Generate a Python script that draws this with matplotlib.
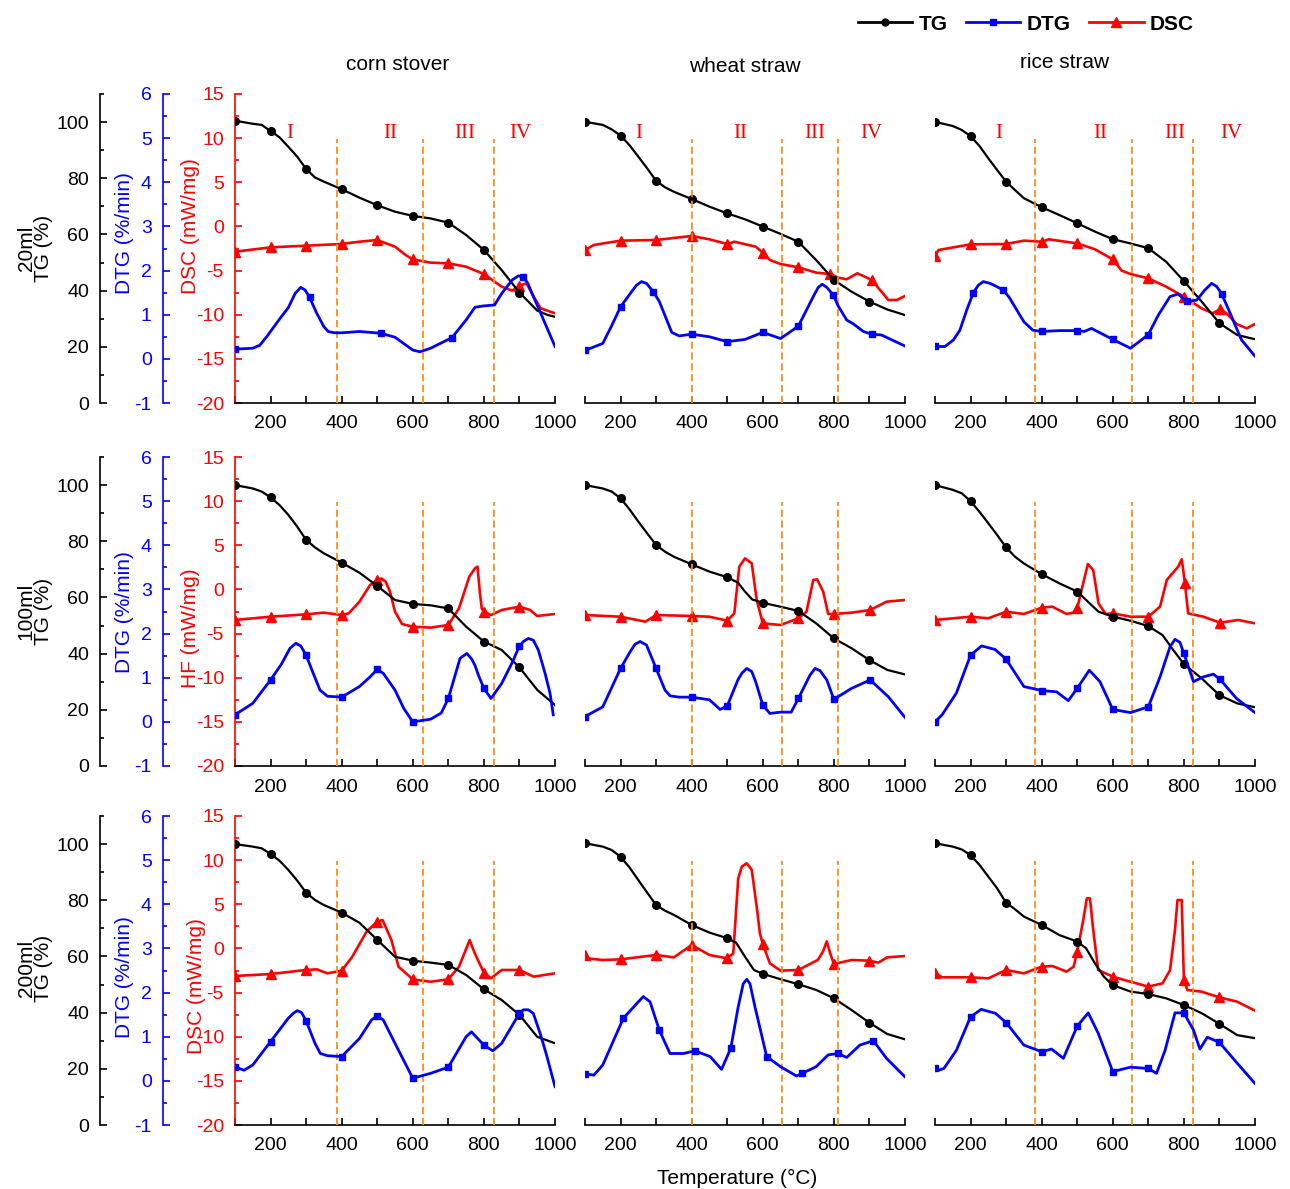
import numpy as np
import matplotlib
matplotlib.use("Agg")
import matplotlib.pyplot as plt
from matplotlib.lines import Line2D
from matplotlib.ticker import MultipleLocator

plt.rcParams['font.family'] = ['Liberation Sans', 'DejaVu Sans']
plt.rcParams['axes.unicode_minus'] = False

W, H = 1290, 1189

samples = ['corn stover', 'wheat straw', 'rice straw']
flows = ['20ml', '100ml', '200ml']
heat_labels = ['DSC (mW/mg)', 'HF (mW/mg)', 'DSC (mW/mg)']
stages = ['I', 'II', 'III', 'IV']
stage_pos = [[255, 538, 747, 903], [252, 536, 747, 906], [280, 564, 775, 932]]
bounds = [[387, 628, 829], [400, 653, 812], [380, 654, 826]]
mark_t = [100, 200, 300, 400, 500, 600, 700, 800, 900]

# ---- 20 ml ----
tg_corn_20 = [(100, 100.5), (150, 99.4), (175, 99.0), (200, 96.8), (225, 94.6), (250, 91.2), (275, 87.7),
              (300, 83.3), (325, 80.3), (350, 78.8), (400, 76.1), (450, 73.1), (500, 70.4), (550, 68.1),
              (600, 66.6), (650, 65.7), (700, 64.2), (750, 59.8), (800, 54.5), (850, 47.3), (900, 39.3),
              (950, 32.9), (980, 31.3), (1000, 30.7)]
dtg_corn_20 = [(100, 0.22), (150, 0.24), (170, 0.31), (189, 0.5), (227, 0.92), (250, 1.16), (269, 1.48),
               (285, 1.62), (297, 1.56), (310, 1.39), (330, 1.03), (350, 0.73), (362, 0.62), (380, 0.59),
               (400, 0.59), (450, 0.62), (510, 0.58), (550, 0.49), (600, 0.2), (620, 0.16), (650, 0.24),
               (710, 0.48), (750, 0.88), (775, 1.17), (800, 1.2), (830, 1.22), (850, 1.48), (880, 1.79),
               (897, 1.88), (910, 1.86), (923, 1.72), (940, 1.4), (960, 1.03), (1000, 0.28)]
dtg_corn_20_marks = [100, 310, 510, 710, 910]
dsc_corn_20 = [(100, -2.86), (200, -2.37), (300, -2.18), (400, -1.99), (450, -1.73), (500, -1.54),
               (550, -2.29), (580, -3.24), (600, -3.73), (650, -4.1), (700, -4.18), (750, -4.56),
               (800, -5.39), (850, -6.82), (880, -7.28), (900, -6.7), (920, -6.45), (940, -7.96),
               (960, -9.28), (1000, -9.84)]

tg_wheat_20 = [(100, 100.1), (150, 99.0), (175, 97.4), (200, 95.2), (225, 91.8), (250, 87.7), (275, 83.5),
               (300, 79.1), (325, 76.8), (350, 75.2), (400, 72.6), (450, 69.9), (500, 67.5), (550, 65.4),
               (600, 62.8), (650, 60.2), (700, 57.4), (750, 50.9), (800, 43.8), (850, 39.6), (900, 36.1),
               (950, 33.3), (1000, 31.3)]
dtg_wheat_20 = [(100, 0.19), (150, 0.35), (175, 0.75), (200, 1.18), (231, 1.52), (245, 1.67), (259, 1.75),
                (273, 1.71), (292, 1.52), (309, 1.3), (330, 0.88), (344, 0.6), (365, 0.52), (400, 0.56),
                (450, 0.5), (500, 0.39), (550, 0.44), (600, 0.6), (650, 0.46), (700, 0.74), (742, 1.41),
                (756, 1.62), (767, 1.69), (780, 1.62), (798, 1.45), (812, 1.2), (836, 0.88), (855, 0.79),
                (883, 0.62), (906, 0.56), (934, 0.54), (1000, 0.29)]
dsc_wheat_20 = [(100, -2.67), (125, -2.1), (200, -1.61), (300, -1.54), (400, -1.08), (450, -1.46),
                (500, -1.99), (520, -1.73), (580, -2.29), (600, -2.97), (620, -3.8), (650, -4.26),
                (700, -4.63), (751, -5.24), (789, -5.39), (812, -5.8), (836, -5.99), (866, -5.31),
                (887, -5.69), (906, -6.07), (934, -7.39), (953, -8.33), (977, -8.33), (1000, -7.88)]

tg_rice_20 = [(100, 100.1), (150, 98.6), (175, 97.2), (200, 95.0), (225, 91.5), (250, 87.1), (275, 82.9),
              (300, 78.8), (325, 75.8), (350, 72.9), (400, 69.7), (450, 66.9), (500, 64.0), (550, 61.0),
              (600, 58.3), (650, 56.8), (700, 55.1), (750, 50.3), (800, 43.4), (850, 36.1), (900, 28.4),
              (950, 24.2), (1000, 22.7)]
dtg_rice_20 = [(100, 0.28), (128, 0.28), (152, 0.43), (170, 0.65), (189, 1.1), (208, 1.5), (222, 1.67),
               (236, 1.75), (255, 1.71), (273, 1.64), (292, 1.56), (309, 1.39), (350, 0.84), (375, 0.65),
               (400, 0.62), (450, 0.64), (500, 0.64), (520, 0.62), (540, 0.69), (600, 0.44), (650, 0.24),
               (700, 0.55), (728, 0.99), (761, 1.41), (784, 1.47), (808, 1.3), (836, 1.33), (859, 1.56),
               (878, 1.71), (892, 1.64), (906, 1.48), (934, 0.96), (962, 0.43), (1000, 0.06)]
dsc_rice_20 = [(100, -3.35), (110, -2.67), (200, -2.03), (300, -1.99), (350, -1.61), (400, -1.73),
               (420, -1.46), (500, -1.92), (550, -2.59), (600, -3.73), (625, -5.01), (650, -5.39),
               (700, -5.88), (750, -6.82), (800, -7.96), (850, -9.28), (881, -9.84), (902, -9.39),
               (920, -9.84), (948, -11.05), (977, -11.54), (1000, -11.05)]

# ---- 100 ml ----
tg_corn_100 = [(100, 100.0), (150, 98.8), (175, 97.7), (200, 95.6), (225, 92.9), (250, 89.4), (275, 85.2),
               (300, 80.5), (325, 77.8), (350, 75.7), (400, 72.4), (450, 68.8), (500, 64.1), (550, 59.1),
               (600, 57.7), (650, 57.2), (700, 56.1), (750, 49.6), (800, 44.3), (850, 41.3), (900, 35.1),
               (950, 27.1), (1000, 21.7)]
dtg_corn_100 = [(100, 0.16), (150, 0.42), (200, 0.95), (230, 1.3), (255, 1.67), (271, 1.78), (285, 1.72),
                (300, 1.51), (320, 1.1), (339, 0.72), (360, 0.58), (400, 0.56), (450, 0.8), (480, 1.02),
                (500, 1.19), (517, 1.1), (550, 0.72), (575, 0.3), (600, 0.0), (650, 0.06), (680, 0.2),
                (700, 0.53), (733, 1.44), (752, 1.55), (766, 1.42), (775, 1.28), (785, 1.05), (800, 0.76),
                (820, 0.53), (850, 0.87), (880, 1.35), (900, 1.72), (911, 1.82), (925, 1.89), (939, 1.85),
                (953, 1.63), (972, 1.1), (986, 0.65), (995, 0.16)]
dsc_corn_100 = [(100, -3.46), (200, -3.09), (300, -2.82), (350, -2.63), (400, -2.9), (420, -2.71),
                (450, -1.39), (480, 0.5), (500, 1.07), (512, 1.24), (524, 0.86), (536, -0.26), (550, -2.52),
                (570, -3.92), (600, -4.22), (650, -4.33), (700, -4.03), (730, -2.14), (759, 1.45),
                (775, 2.39), (782, 2.58), (789, -0.44), (794, -2.14), (800, -2.52), (820, -2.9),
                (850, -2.33), (900, -1.95), (930, -2.33), (950, -3.01), (1000, -2.78)]

tg_wheat_100 = [(100, 100.0), (150, 98.8), (175, 97.7), (200, 95.3), (225, 91.4), (250, 87.0), (275, 82.8),
                (300, 78.7), (325, 76.3), (350, 74.5), (400, 71.8), (450, 69.2), (500, 67.2), (530, 65.3),
                (550, 62.1), (570, 59.3), (600, 58.1), (650, 56.7), (700, 55.2), (750, 50.8), (800, 45.4),
                (850, 41.9), (900, 37.7), (950, 34.2), (1000, 32.6)]
dtg_wheat_100 = [(100, 0.12), (150, 0.34), (200, 1.21), (227, 1.59), (241, 1.76), (255, 1.82), (273, 1.74),
                 (300, 1.21), (325, 0.72), (339, 0.59), (365, 0.56), (400, 0.56), (450, 0.5), (480, 0.28),
                 (500, 0.36), (530, 0.95), (541, 1.1), (555, 1.21), (569, 1.14), (580, 0.91), (600, 0.38),
                 (620, 0.19), (650, 0.22), (680, 0.22), (700, 0.53), (733, 1.06), (747, 1.21), (761, 1.16),
                 (780, 0.95), (800, 0.51), (850, 0.76), (902, 0.95), (953, 0.57), (1000, 0.1)]
dsc_wheat_100 = [(100, -2.9), (200, -3.09), (270, -3.65), (300, -2.9), (400, -3.01), (450, -3.09),
                 (500, -3.54), (520, -2.71), (534, 2.58), (550, 3.52), (569, 2.96), (583, -1.2),
                 (600, -3.84), (650, -4.03), (700, -3.27), (723, -2.52), (742, 1.07), (753, 1.14),
                 (770, -0.26), (784, -2.78), (800, -2.78), (850, -2.63), (902, -2.33), (948, -1.39),
                 (1000, -1.2)]

tg_rice_100 = [(100, 100.0), (150, 98.3), (175, 97.1), (200, 94.3), (225, 90.5), (250, 86.4), (275, 82.2),
               (300, 77.8), (325, 74.5), (350, 72.1), (400, 68.3), (450, 65.0), (500, 62.1), (530, 58.5),
               (560, 54.9), (600, 53.2), (650, 51.7), (700, 49.8), (740, 46.6), (770, 41.3), (800, 36.3),
               (850, 31.2), (900, 25.2), (950, 22.3), (1000, 20.9)]
dtg_rice_100 = [(100, 0.0), (120, 0.16), (160, 0.65), (200, 1.51), (231, 1.72), (269, 1.64), (300, 1.42),
                (350, 0.8), (400, 0.71), (442, 0.68), (475, 0.48), (500, 0.76), (534, 1.17), (564, 0.91),
                (600, 0.28), (650, 0.21), (700, 0.34), (733, 1.02), (761, 1.7), (775, 1.87), (789, 1.8),
                (800, 1.55), (827, 0.91), (855, 1.02), (883, 1.08), (902, 0.96), (948, 0.53), (1000, 0.21)]
dsc_rice_100 = [(100, -3.46), (200, -3.09), (250, -3.27), (300, -2.52), (350, -2.78), (400, -2.07),
                (430, -1.95), (470, -2.78), (490, -2.63), (500, -2.14), (510, -0.44), (530, 2.88),
                (545, 2.2), (560, -1.58), (580, -2.78), (600, -2.71), (650, -3.09), (700, -3.09),
                (733, -1.95), (752, 1.07), (784, 2.58), (794, 3.41), (803, 0.69), (812, -2.71),
                (855, -3.09), (902, -3.77), (953, -3.46), (1000, -3.84)]

# ---- 200 ml ----
tg_corn_200 = [(100, 100.0), (150, 99.1), (175, 98.5), (200, 96.5), (225, 94.1), (250, 90.8), (275, 87.0),
               (300, 82.7), (325, 80.1), (350, 78.3), (400, 75.6), (450, 72.0), (500, 65.9), (550, 59.9),
               (600, 58.5), (650, 57.8), (700, 57.0), (750, 53.4), (800, 48.3), (850, 44.5), (900, 39.2),
               (950, 31.4), (1000, 29.1)]
dtg_corn_200 = [(100, 0.32), (125, 0.24), (150, 0.36), (200, 0.89), (250, 1.42), (264, 1.53), (275, 1.59),
                (287, 1.55), (300, 1.36), (325, 0.85), (340, 0.62), (360, 0.57), (400, 0.55), (450, 0.96),
                (484, 1.38), (500, 1.47), (517, 1.38), (550, 0.85), (600, 0.06), (650, 0.17), (700, 0.31),
                (750, 1.0), (765, 1.11), (800, 0.81), (825, 0.68), (850, 0.85), (900, 1.53), (911, 1.61),
                (925, 1.61), (939, 1.53), (958, 1.08), (975, 0.62), (1000, -0.13)]
dsc_corn_200 = [(100, -3.12), (200, -2.9), (300, -2.44), (330, -2.37), (360, -2.82), (400, -2.52),
                (430, -0.93), (470, 1.9), (500, 3.03), (515, 3.22), (540, 0.95), (560, -2.07),
                (600, -3.5), (650, -3.77), (700, -3.5), (730, -2.07), (760, 0.95), (775, -0.6),
                (800, -2.75), (820, -3.39), (850, -2.44), (900, -2.44), (940, -3.2), (1000, -2.82)]

tg_wheat_200 = [(100, 100.3), (150, 99.1), (175, 97.9), (200, 95.5), (225, 91.7), (250, 87.2), (275, 82.7),
                (300, 78.3), (325, 76.3), (350, 74.8), (400, 71.2), (450, 68.5), (500, 66.5), (525, 64.9),
                (550, 59.9), (575, 55.2), (600, 53.8), (650, 51.9), (700, 50.1), (750, 48.1), (800, 45.1),
                (850, 40.9), (900, 36.4), (950, 32.4), (1000, 30.5)]
dtg_wheat_200 = [(100, 0.16), (125, 0.13), (150, 0.36), (208, 1.42), (250, 1.79), (264, 1.91), (283, 1.79),
                 (309, 1.15), (339, 0.62), (377, 0.62), (409, 0.68), (452, 0.55), (484, 0.26), (510, 0.74),
                 (531, 1.68), (545, 2.2), (555, 2.3), (564, 2.2), (578, 1.68), (611, 0.55), (650, 0.32),
                 (695, 0.11), (711, 0.17), (750, 0.32), (784, 0.59), (812, 0.62), (836, 0.53), (873, 0.81),
                 (911, 0.91), (948, 0.51), (1000, 0.09)]
dtg_wheat_200_marks = [100, 208, 309, 409, 510, 611, 711, 812, 911]
dsc_wheat_200 = [(100, -0.74), (105, -1.12), (150, -1.31), (200, -1.24), (300, -0.74), (350, -1.01),
                 (400, 0.39), (450, -0.74), (500, -1.12), (517, -0.56), (531, 7.94), (541, 9.26),
                 (555, 9.64), (569, 8.9), (583, 4.7), (592, 1.71), (600, 0.5), (620, -1.69), (650, -2.52),
                 (700, -2.44), (755, -1.3), (770, -0.3), (780, 0.8), (790, -0.6), (800, -1.76),
                 (850, -1.31), (900, -1.39), (925, -1.61), (950, -1.01), (1000, -0.86)]

tg_rice_200 = [(100, 100.3), (150, 99.1), (175, 98.1), (200, 96.1), (225, 92.6), (250, 88.4), (275, 84.2),
               (300, 79.1), (325, 76.8), (350, 74.2), (400, 71.2), (450, 67.6), (500, 65.3), (525, 62.9),
               (550, 57.5), (575, 52.8), (600, 49.8), (650, 47.5), (700, 46.6), (750, 45.1), (800, 42.7),
               (850, 39.8), (900, 36.0), (950, 32.0), (1000, 30.9)]
dtg_rice_200 = [(100, 0.28), (110, 0.24), (125, 0.28), (160, 0.69), (200, 1.45), (230, 1.62), (270, 1.53),
                (300, 1.32), (350, 0.81), (400, 0.66), (428, 0.72), (461, 0.51), (500, 1.24), (531, 1.54),
                (559, 1.08), (600, 0.21), (650, 0.31), (700, 0.28), (723, 0.17), (747, 0.69), (775, 1.54),
                (800, 1.54), (827, 1.15), (845, 0.72), (866, 0.99), (900, 0.87), (950, 0.4), (1000, -0.06)]
dsc_rice_200 = [(100, -2.82), (120, -3.27), (200, -3.27), (250, -3.39), (300, -2.44), (350, -2.82),
                (400, -2.07), (430, -1.99), (470, -2.63), (490, -2.07), (500, -0.37), (517, 3.22),
                (527, 5.67), (536, 5.67), (545, 2.09), (559, -2.44), (600, -3.2), (650, -3.77),
                (700, -4.33), (740, -3.95), (761, -2.48), (775, 2.09), (782, 5.48), (794, 5.48),
                (800, -3.6), (810, -4.71), (850, -4.9), (900, -5.54), (950, -6.03), (1000, -7.05)]

tg_data = [[tg_corn_20, tg_wheat_20, tg_rice_20],
           [tg_corn_100, tg_wheat_100, tg_rice_100],
           [tg_corn_200, tg_wheat_200, tg_rice_200]]
dtg_data = [[dtg_corn_20, dtg_wheat_20, dtg_rice_20],
            [dtg_corn_100, dtg_wheat_100, dtg_rice_100],
            [dtg_corn_200, dtg_wheat_200, dtg_rice_200]]
dsc_data = [[dsc_corn_20, dsc_wheat_20, dsc_rice_20],
            [dsc_corn_100, dsc_wheat_100, dsc_rice_100],
            [dsc_corn_200, dsc_wheat_200, dsc_rice_200]]
dtg_marks = [[dtg_corn_20_marks, mark_t, mark_t],
             [mark_t, mark_t, mark_t],
             [mark_t, dtg_wheat_200_marks, mark_t]]

BLACK, BLUE, RED, ORANGE = '#000000', '#0000FF', '#FF0000', '#FF8C1A'
col_left = [235, 585, 935]
row_bottom = [403, 766, 1125]
pw, ph = 320, 309


def fx(x):
    return x / W


def fy(y):
    return 1 - y / H


def draw(ax, curve, marks, **kw):
    t = np.array([p[0] for p in curve])
    v = [p[1] for p in curve]
    # marker on the data point closest to each marker temperature
    idx = sorted({int(np.argmin(np.abs(t - m))) for m in marks})
    ax.plot(t, v, markevery=idx, **kw)


fig = plt.figure(figsize=(W / 100, H / 100), dpi=100)

for r in range(3):
    for c in range(3):
        rect = [fx(col_left[c]), fy(row_bottom[r]), pw / W, ph / H]
        ax = fig.add_axes(rect)
        ax_tg = ax.twinx()
        ax_dtg = ax.twinx()

        draw(ax, dsc_data[r][c], mark_t, color=RED, lw=1.9, marker='^', ms=6.5)
        draw(ax_tg, tg_data[r][c], mark_t, color=BLACK, lw=1.6, marker='o', ms=5.5)
        draw(ax_dtg, dtg_data[r][c], dtg_marks[r][c], color=BLUE, lw=2.0, marker='s', ms=5)

        ax_tg.vlines(bounds[c], 0, 94, colors=ORANGE, linestyles=(0, (4, 2)), lw=1.3)
        if r == 0:
            for s, xs in zip(stages, stage_pos[c]):
                ax_tg.text(xs, 96, s, color=RED, fontsize=15, family='Liberation Serif',
                           ha='center', va='center')

        ax.set_xlim(100, 1000)
        ax.set_ylim(-20, 15)
        ax_tg.set_ylim(0, 110)
        ax_dtg.set_ylim(-1, 6)

        ax.xaxis.set_major_locator(MultipleLocator(200))
        ax.xaxis.set_minor_locator(MultipleLocator(100))
        ax.tick_params(axis='x', which='both', direction='in', length=5, width=1.2,
                       labelsize=14, pad=9, top=False)

        for a in (ax, ax_tg, ax_dtg):
            a.spines['top'].set_visible(False)
            a.spines['right'].set_visible(False)
        ax.spines['bottom'].set_linewidth(1.2)
        for a in (ax_tg, ax_dtg):
            a.spines['bottom'].set_visible(False)

        if c == 0:
            ax.spines['left'].set_color(RED)
            ax.spines['left'].set_linewidth(1.2)
            ax.yaxis.set_major_locator(MultipleLocator(5))
            ax.yaxis.set_minor_locator(MultipleLocator(2.5))
            ax.tick_params(axis='y', which='both', direction='in', colors=RED, width=1.2,
                           labelsize=14, pad=8)
            ax.tick_params(axis='y', which='major', length=5)
            ax.tick_params(axis='y', which='minor', length=3)

            for a, off, col, maj, mnr in ((ax_tg, 97, BLACK, 20, 10), (ax_dtg, 52, BLUE, 1, 0.5)):
                a.yaxis.tick_left()
                a.spines['left'].set_visible(True)
                a.spines['left'].set_position(('outward', off))
                a.spines['left'].set_color(col)
                a.spines['left'].set_linewidth(1.2)
                a.yaxis.set_major_locator(MultipleLocator(maj))
                a.yaxis.set_minor_locator(MultipleLocator(mnr))
                a.tick_params(axis='y', which='both', direction='in', colors=col, width=1.2,
                              labelsize=14, pad=8)
                a.tick_params(axis='y', which='major', length=5)
                a.tick_params(axis='y', which='minor', length=3)
        else:
            ax.spines['left'].set_visible(False)
            ax.tick_params(axis='y', which='both', left=False, labelleft=False)
            for a in (ax_tg, ax_dtg):
                a.spines['left'].set_visible(False)
                a.yaxis.set_visible(False)

# y-axis titles
tg_label_y = [248, 611, 968]
dtg_label_y = [233, 612, 977]
heat_label_x = [190, 190, 197]
heat_label_y = [226, 628, 986]
for r in range(3):
    fig.text(fx(35), fy(tg_label_y[r]), flows[r] + '\nTG (%)', rotation=90, ha='center', va='center',
             fontsize=15, linespacing=0.9)
    fig.text(fx(125), fy(dtg_label_y[r]), 'DTG (%/min)', rotation=90, ha='center', va='center',
             fontsize=15, color=BLUE)
    fig.text(fx(heat_label_x[r]), fy(heat_label_y[r]), heat_labels[r], rotation=90, ha='center',
             va='center', fontsize=15, color=RED)

# column titles
for s, xc, yc in zip(samples, [398, 745, 1065], [64, 66, 62]):
    fig.text(fx(xc), fy(yc), s, ha='center', va='center', fontsize=15)

fig.text(fx(737), fy(1178), 'Temperature (°C)', ha='center', va='center', fontsize=15)

handles = [Line2D([], [], color=BLACK, lw=2, marker='o', ms=5),
           Line2D([], [], color=BLUE, lw=2, marker='s', ms=5),
           Line2D([], [], color=RED, lw=2, marker='^', ms=6.5)]
fig.legend(handles, ['TG', 'DTG', 'DSC'], ncol=3, loc='center', bbox_to_anchor=(fx(1026), fy(24)),
           frameon=False, prop={'weight': 'bold', 'size': 15}, handlelength=2.6, handletextpad=0.3,
           columnspacing=0.9, borderpad=0)

fig.savefig('out.png', dpi=100)
